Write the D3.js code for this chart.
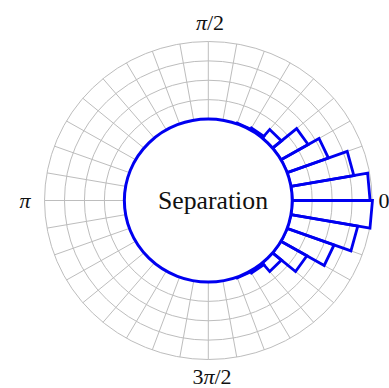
<!DOCTYPE html>
<html>
<head>
<meta charset="utf-8">
<script src="https://cdn.jsdelivr.net/npm/d3@7"></script>
<style>
  html, body { margin: 0; padding: 0; background: #fff; }
  svg { display: block; }
  text { font-family: "Liberation Serif", "DejaVu Serif", serif; fill: #111; }
</style>
</head>
<body>
<script>
// Angular bins (degrees, counter-clockwise from 0) — each bin is 10° wide
const binStarts = [-70, -60, -50, -40, -30, -20, -10, 0, 10, 20, 30, 40, 50, 60];
// Bar heights in grid-ring units (0 = inner circle, 4 = outer ring)
const binValues = [0.04, 0.12, 0.58, 1.5, 2.5, 3.4, 4.02, 3.9, 3.2, 2.2, 1.57, 0.58, 0.12, 0.04];
const binWidth = 10;
// Grid rings and spokes
const ringValues = [0, 1, 2, 3, 4];
const spokeStep = 10;
// Angle labels
const angleLabels = ["0", "π/2", "π", "3π/2"];

const W = 389, H = 388;
const cx = 208.3, cy = 200.5;
const stretchX = 1.03;

const svg = d3.select("body").append("svg")
  .attr("width", W).attr("height", H);

const r = d3.scaleLinear().domain([0, 4]).range([81.5, 159]);
const rad = d => d * Math.PI / 180;

const chart = svg.append("g")
  .attr("transform", `translate(${cx},${cy}) scale(${stretchX},1)`);

// grid rings
chart.append("g").selectAll("circle")
  .data(ringValues)
  .join("circle")
  .attr("r", d => r(d))
  .attr("fill", "none")
  .attr("stroke", "#bdbdbd")
  .attr("stroke-width", 1)
  .attr("vector-effect", "non-scaling-stroke");

// spokes
const spokes = d3.range(0, 360, spokeStep);
chart.append("g").selectAll("line")
  .data(spokes)
  .join("line")
  .attr("x1", d => r(0) * Math.cos(rad(d)))
  .attr("y1", d => -r(0) * Math.sin(rad(d)))
  .attr("x2", d => r(4) * Math.cos(rad(d)))
  .attr("y2", d => -r(4) * Math.sin(rad(d)))
  .attr("stroke", "#bdbdbd")
  .attr("stroke-width", 1)
  .attr("vector-effect", "non-scaling-stroke");

// histogram bars as polygons (straight outer edge)
const barPath = (start, v) => {
  const a0 = rad(start), a1 = rad(start + binWidth);
  const ri = r(0), ro = r(v);
  const pts = [
    [ri * Math.cos(a0), -ri * Math.sin(a0)],
    [ro * Math.cos(a0), -ro * Math.sin(a0)],
    [ro * Math.cos(a1), -ro * Math.sin(a1)],
    [ri * Math.cos(a1), -ri * Math.sin(a1)]
  ];
  return d3.line()(pts) + "Z";
};

chart.append("g").selectAll("path")
  .data(binStarts.map((s, i) => ({ s, v: binValues[i] })))
  .join("path")
  .attr("d", d => barPath(d.s, d.v))
  .attr("fill", "none")
  .attr("stroke", "#0000f0")
  .attr("stroke-width", 2.8)
  .attr("stroke-linejoin", "miter")
  .attr("vector-effect", "non-scaling-stroke");

// inner circle
chart.append("circle")
  .attr("r", r(0))
  .attr("fill", "#fff")
  .attr("stroke", "#0000f0")
  .attr("stroke-width", 3)
  .attr("vector-effect", "non-scaling-stroke");

// centre label
svg.append("text")
  .attr("x", 213).attr("y", cy + 8)
  .attr("text-anchor", "middle")
  .attr("font-size", 25)
  .attr("textLength", 110)
  .attr("lengthAdjust", "spacingAndGlyphs")
  .text("Separation");

// angle labels
const labelPos = {
  "0": [384, cy + 7],
  "π/2": [210, 30],
  "π": [25, cy + 7],
  "3π/2": [212, 384]
};
svg.append("g").selectAll("text")
  .data(angleLabels)
  .join("text")
  .attr("x", d => labelPos[d][0])
  .attr("y", d => labelPos[d][1])
  .attr("text-anchor", "middle")
  .attr("font-size", 22)
  .html(d => d.replace("π", "<tspan font-style='italic'>π</tspan>"));
</script>
</body>
</html>
